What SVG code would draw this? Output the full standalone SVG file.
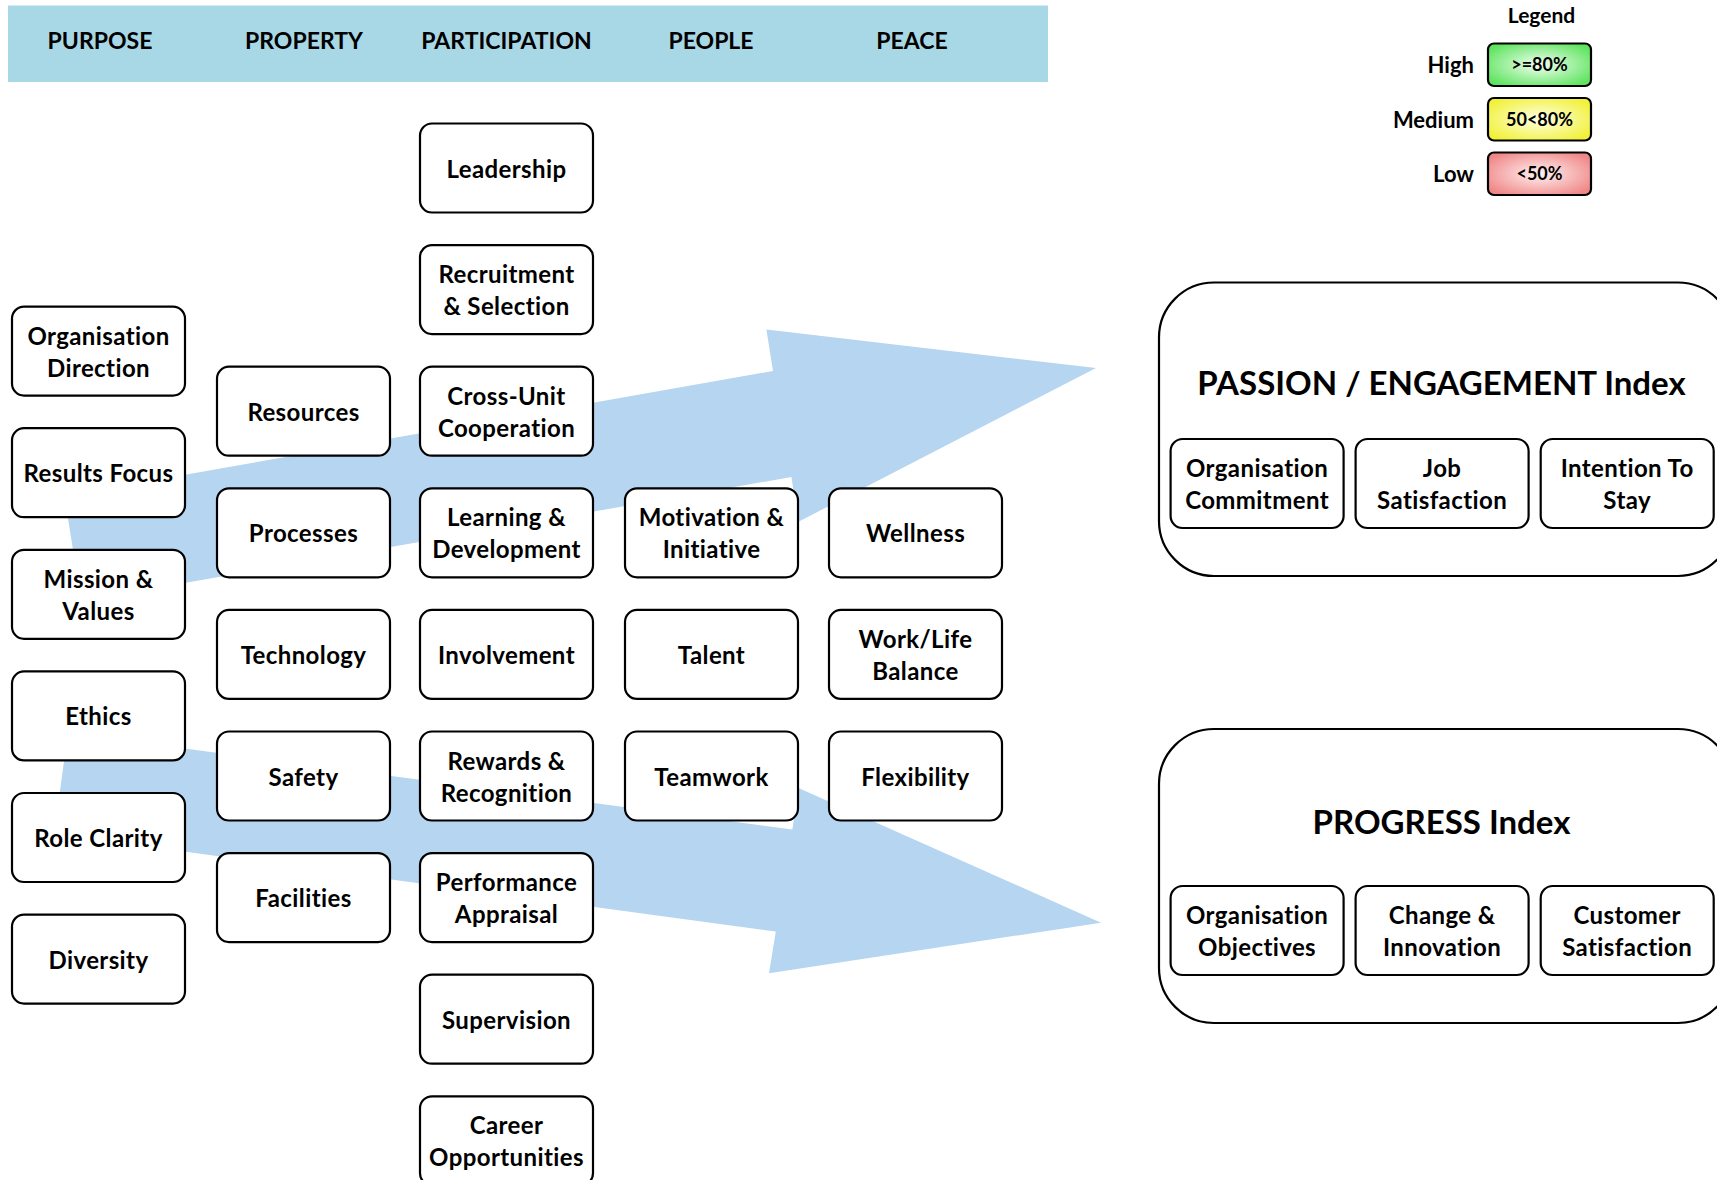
<svg xmlns="http://www.w3.org/2000/svg" width="1717" height="1180" viewBox="0 0 1717 1180">
  <defs>
    <style>
      text { font-family: Lato, "Open Sans", "Liberation Sans", sans-serif; font-weight: 700; fill: #000; text-anchor: middle; }
      .box { fill: #fff; stroke: #000; stroke-width: 2.2; }
      .node text { font-size: 24px; letter-spacing: 0.4px; }
      .hdr text { font-size: 23px; }
      .node text.title { font-size: 33px; letter-spacing: 0; }
      .leg-label { font-size: 22px; text-anchor: end; }
      .leg-val { font-size: 18px; }
      .flow { fill: #B6D5F0; stroke: none; }
    </style>
    <radialGradient id="gHigh" cx="50%" cy="50%" r="60%">
      <stop offset="0" stop-color="#F2FFF2"/>
      <stop offset="1" stop-color="#5FE45F"/>
    </radialGradient>
    <radialGradient id="gMed" cx="50%" cy="50%" r="60%">
      <stop offset="0" stop-color="#FFFFE6"/>
      <stop offset="1" stop-color="#F1F139"/>
    </radialGradient>
    <radialGradient id="gLow" cx="50%" cy="50%" r="60%">
      <stop offset="0" stop-color="#FFF2F2"/>
      <stop offset="1" stop-color="#F08787"/>
    </radialGradient>
  </defs>

  <rect width="1717" height="1180" fill="#fff"/>

  <!-- column header band -->
  <g id="header" class="hdr">
    <rect x="8" y="5.5" width="1040" height="76.5" fill="#A8D8E6"/>
    <text x="100" y="49">PURPOSE</text>
    <text x="304" y="49">PROPERTY</text>
    <text x="506.5" y="49">PARTICIPATION</text>
    <text x="711" y="49">PEOPLE</text>
    <text x="912" y="49">PEACE</text>
  </g>

  <!-- block arrows feeding the two indices -->
  <g id="connectors">
    <polygon id="arrow-passion" class="flow" points="64.5,496 773,371 766.4,329.5 1096,368 798,522 791.5,477 81,601"/>
    <polygon id="arrow-progress" class="flow" points="67.8,732.9 792.3,829.5 799,788.3 1101,922.7 769,973.3 775.8,931.5 54.2,834"/>
  </g>

  <!-- PURPOSE column -->
  <g id="n-org-direction" class="node"><rect class="box" x="12" y="306.6" width="173" height="89" rx="12"/><text x="98.5" y="344.6">Organisation</text><text x="98.5" y="376.6">Direction</text></g>
  <g id="n-results-focus" class="node"><rect class="box" x="12" y="428.2" width="173" height="89" rx="12"/><text x="98.5" y="482.2">Results Focus</text></g>
  <g id="n-mission-values" class="node"><rect class="box" x="12" y="549.8" width="173" height="89" rx="12"/><text x="98.5" y="587.8">Mission &amp;</text><text x="98.5" y="619.8">Values</text></g>
  <g id="n-ethics" class="node"><rect class="box" x="12" y="671.4" width="173" height="89" rx="12"/><text x="98.5" y="725.4">Ethics</text></g>
  <g id="n-role-clarity" class="node"><rect class="box" x="12" y="793" width="173" height="89" rx="12"/><text x="98.5" y="847">Role Clarity</text></g>
  <g id="n-diversity" class="node"><rect class="box" x="12" y="914.6" width="173" height="89" rx="12"/><text x="98.5" y="968.6">Diversity</text></g>

  <!-- PROPERTY column -->
  <g id="n-resources" class="node"><rect class="box" x="217" y="366.7" width="173" height="89" rx="12"/><text x="303.5" y="420.7">Resources</text></g>
  <g id="n-processes" class="node"><rect class="box" x="217" y="488.3" width="173" height="89" rx="12"/><text x="303.5" y="542.3">Processes</text></g>
  <g id="n-technology" class="node"><rect class="box" x="217" y="609.9" width="173" height="89" rx="12"/><text x="303.5" y="663.9">Technology</text></g>
  <g id="n-safety" class="node"><rect class="box" x="217" y="731.5" width="173" height="89" rx="12"/><text x="303.5" y="785.5">Safety</text></g>
  <g id="n-facilities" class="node"><rect class="box" x="217" y="853.1" width="173" height="89" rx="12"/><text x="303.5" y="907.1">Facilities</text></g>

  <!-- PARTICIPATION column -->
  <g id="n-leadership" class="node"><rect class="box" x="420" y="123.5" width="173" height="89" rx="12"/><text x="506.5" y="177.5">Leadership</text></g>
  <g id="n-recruitment" class="node"><rect class="box" x="420" y="245.1" width="173" height="89" rx="12"/><text x="506.5" y="283.1">Recruitment</text><text x="506.5" y="315.1">&amp; Selection</text></g>
  <g id="n-cross-unit" class="node"><rect class="box" x="420" y="366.7" width="173" height="89" rx="12"/><text x="506.5" y="404.7">Cross-Unit</text><text x="506.5" y="436.7">Cooperation</text></g>
  <g id="n-learning" class="node"><rect class="box" x="420" y="488.3" width="173" height="89" rx="12"/><text x="506.5" y="526.3">Learning &amp;</text><text x="506.5" y="558.3">Development</text></g>
  <g id="n-involvement" class="node"><rect class="box" x="420" y="609.9" width="173" height="89" rx="12"/><text x="506.5" y="663.9">Involvement</text></g>
  <g id="n-rewards" class="node"><rect class="box" x="420" y="731.5" width="173" height="89" rx="12"/><text x="506.5" y="769.5">Rewards &amp;</text><text x="506.5" y="801.5">Recognition</text></g>
  <g id="n-performance" class="node"><rect class="box" x="420" y="853.1" width="173" height="89" rx="12"/><text x="506.5" y="891.1">Performance</text><text x="506.5" y="923.1">Appraisal</text></g>
  <g id="n-supervision" class="node"><rect class="box" x="420" y="974.7" width="173" height="89" rx="12"/><text x="506.5" y="1028.7">Supervision</text></g>
  <g id="n-career" class="node"><rect class="box" x="420" y="1096.3" width="173" height="89" rx="12"/><text x="506.5" y="1134.3">Career</text><text x="506.5" y="1166.3">Opportunities</text></g>

  <!-- PEOPLE column -->
  <g id="n-motivation" class="node"><rect class="box" x="625" y="488.3" width="173" height="89" rx="12"/><text x="711.5" y="526.3">Motivation &amp;</text><text x="711.5" y="558.3">Initiative</text></g>
  <g id="n-talent" class="node"><rect class="box" x="625" y="609.9" width="173" height="89" rx="12"/><text x="711.5" y="663.9">Talent</text></g>
  <g id="n-teamwork" class="node"><rect class="box" x="625" y="731.5" width="173" height="89" rx="12"/><text x="711.5" y="785.5">Teamwork</text></g>

  <!-- PEACE column -->
  <g id="n-wellness" class="node"><rect class="box" x="829" y="488.3" width="173" height="89" rx="12"/><text x="915.5" y="542.3">Wellness</text></g>
  <g id="n-work-life" class="node"><rect class="box" x="829" y="609.9" width="173" height="89" rx="12"/><text x="915.5" y="647.9">Work/Life</text><text x="915.5" y="679.9">Balance</text></g>
  <g id="n-flexibility" class="node"><rect class="box" x="829" y="731.5" width="173" height="89" rx="12"/><text x="915.5" y="785.5">Flexibility</text></g>

  <!-- PASSION / ENGAGEMENT index -->
  <g id="n-passion" class="node">
    <rect class="box" x="1159" y="282.5" width="574" height="293.5" rx="55"/>
    <text class="title" x="1441.5" y="394.5">PASSION / ENGAGEMENT Index</text>
  </g>
  <g id="n-org-commitment" class="node"><rect class="box" x="1170.6" y="439" width="173" height="89" rx="12"/><text x="1257.1" y="477">Organisation</text><text x="1257.1" y="509">Commitment</text></g>
  <g id="n-job-satisfaction" class="node"><rect class="box" x="1355.6" y="439" width="173" height="89" rx="12"/><text x="1442.1" y="477">Job</text><text x="1442.1" y="509">Satisfaction</text></g>
  <g id="n-intention-stay" class="node"><rect class="box" x="1540.7" y="439" width="173" height="89" rx="12"/><text x="1627.2" y="477">Intention To</text><text x="1627.2" y="509">Stay</text></g>

  <!-- PROGRESS index -->
  <g id="n-progress" class="node">
    <rect class="box" x="1159" y="729" width="574" height="294" rx="55"/>
    <text class="title" x="1441.5" y="834">PROGRESS Index</text>
  </g>
  <g id="n-org-objectives" class="node"><rect class="box" x="1170.6" y="886" width="173" height="89" rx="12"/><text x="1257.1" y="924">Organisation</text><text x="1257.1" y="956">Objectives</text></g>
  <g id="n-change-innovation" class="node"><rect class="box" x="1355.6" y="886" width="173" height="89" rx="12"/><text x="1442.1" y="924">Change &amp;</text><text x="1442.1" y="956">Innovation</text></g>
  <g id="n-customer-satisfaction" class="node"><rect class="box" x="1540.7" y="886" width="173" height="89" rx="12"/><text x="1627.2" y="924">Customer</text><text x="1627.2" y="956">Satisfaction</text></g>

  <!-- rating legend -->
  <g id="legend">
    <text x="1541.5" y="23" style="font-size:21px">Legend</text>
    <text class="leg-label" x="1474" y="73">High</text>
    <text class="leg-label" x="1474" y="128">Medium</text>
    <text class="leg-label" x="1474" y="182">Low</text>
    <rect x="1488" y="43.5" width="103" height="42.5" rx="6" fill="url(#gHigh)" stroke="#000" stroke-width="2.2"/>
    <rect x="1488" y="98" width="103" height="42.5" rx="6" fill="url(#gMed)" stroke="#000" stroke-width="2.2"/>
    <rect x="1488" y="152.5" width="103" height="42.5" rx="6" fill="url(#gLow)" stroke="#000" stroke-width="2.2"/>
    <text class="leg-val" x="1539.5" y="71">&gt;=80%</text>
    <text class="leg-val" x="1539.5" y="125.5">50&lt;80%</text>
    <text class="leg-val" x="1539.5" y="180">&lt;50%</text>
  </g>
</svg>
